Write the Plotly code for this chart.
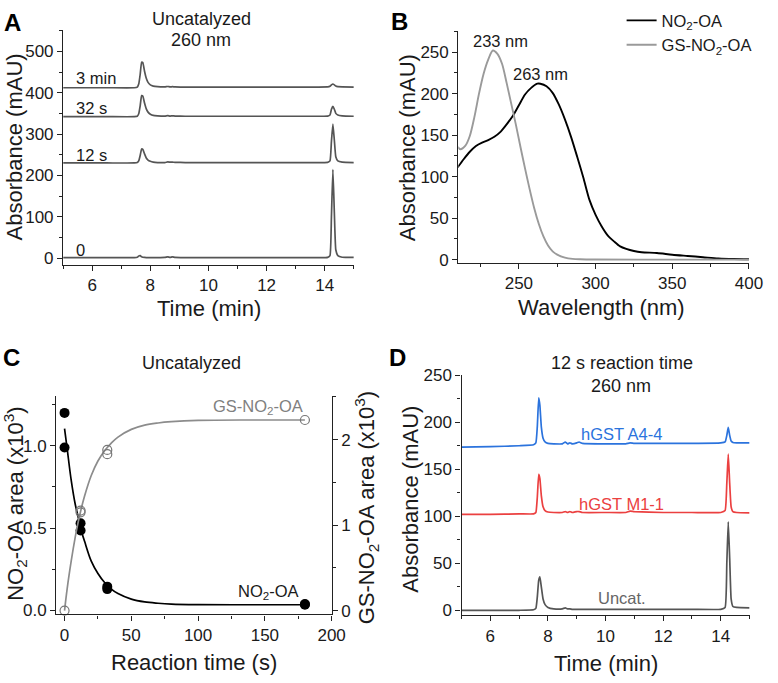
import plotly.graph_objects as go

W, H = 778, 683
FONT = "Arial, Liberation Sans, sans-serif"
TXT = "#1a1a1a"

# ---------------- Panel A data (chromatograms, uncatalyzed) ----------------
tA = [5.0, 6.5, 7.45, 7.55, 7.6, 7.65, 7.7, 7.74, 7.8, 7.86, 7.92, 8.0, 8.1, 8.25, 8.5, 8.6,
      8.68, 8.76, 8.85, 9.2, 10.5, 12.0, 13.5, 14.1, 14.18, 14.23, 14.28, 14.33, 14.38, 14.45, 14.6, 15.0]
a_0 = [1, 1, 1, 2, 5, 6, 3, 2, 1.5, 1.2, 1, 1, 1, 1, 1.5, 3,
       1.5, 3, 1.5, 1, 1, 1, 1, 1.5, 6, 100, 214, 110, 20, 6, 2, 1.5]
a_12s = [230, 230, 230, 231, 235, 248, 264, 263, 252, 242, 237, 234, 232, 231, 231, 232.5,
         232, 232, 231.5, 231, 231, 231, 231, 231.5, 235, 282, 324, 285, 245, 235, 232, 231]
a_32s = [342, 342, 342, 343, 349, 368, 393, 392, 375, 361, 353, 348, 345, 344, 343.5, 344.5,
         343.5, 344, 343.5, 343, 343, 343, 343, 343.5, 346, 360, 367, 360, 350, 346, 344, 343]
a_3min = [412, 412, 412, 413.5, 421, 444, 474, 473, 452, 435, 425, 419, 416, 414.5, 414, 415,
          414, 414.5, 414, 413.5, 413.5, 413.5, 413.5, 414, 415.5, 419, 421, 419, 416, 414.5, 414, 413.5]
labelsA = ["3 min", "32 s", "12 s", "0"]

# ---------------- Panel B data (UV spectra) ----------------
wl_no2 = [210, 214, 218, 222, 226, 230, 234, 238, 242, 246, 250, 254, 258, 262, 264, 268, 272, 276,
          280, 284, 288, 292, 296, 300, 304, 308, 312, 316, 320, 325, 330, 340, 350, 360, 370, 380, 390, 400]
ab_no2 = [111, 121, 130, 137, 141, 144, 148, 154, 163, 173, 186, 199, 207, 212, 212, 209, 201, 187,
          169, 148, 124, 99, 72, 54, 40, 29, 22, 16, 13, 10.5, 9, 8, 6, 4.5, 3, 1.5, 0.8, 0.5]
wl_gs = [210, 212, 215, 218, 221, 224, 227, 230, 233, 236, 239, 242, 245, 248, 251, 254, 257, 260,
         263, 266, 269, 272, 275, 280, 285, 290, 300, 350, 400]
ab_gs = [136, 133, 137, 149, 172, 200, 224, 241, 252, 248, 236, 213, 188, 163, 136, 110, 85, 62,
         43, 28, 17, 10, 6, 2.5, 1, 0.5, 0.2, 0, 0]

# ---------------- Panel C data (kinetics) ----------------
t_no2_pts = [0, 0, 12, 12, 32, 32, 180, 180]
area_no2_pts = [1.20, 0.99, 0.53, 0.486, 0.145, 0.13, 0.04, 0.035]
t_gs_pts = [0, 12, 12, 32, 32, 180]
area_gs_pts = [0.0, 1.17, 1.15, 1.88, 1.83, 2.23]
t_fit = [0, 2, 5, 8, 10, 12, 15, 20, 25, 30, 35, 40, 50, 60, 70, 80, 100, 140, 180]
fit_no2 = [1.105, 0.98, 0.79, 0.645, 0.575, 0.50, 0.42, 0.30, 0.225, 0.17, 0.13, 0.103, 0.069,
           0.052, 0.044, 0.039, 0.036, 0.035, 0.035]
fit_gs = [0.0, 0.26, 0.58, 0.86, 1.02, 1.16, 1.34, 1.58, 1.75, 1.87, 1.96, 2.03, 2.12, 2.17,
          2.195, 2.21, 2.225, 2.23, 2.23]

# ---------------- Panel D data (12 s chromatograms) ----------------
tD = [5.0, 6.0, 7.0, 7.5, 7.58, 7.63, 7.68, 7.72, 7.77, 7.83, 7.9, 8.0, 8.2, 8.5, 8.6, 8.68, 8.76,
      8.85, 9.0, 9.08, 9.2, 10.0, 10.7, 10.85, 11.0, 12.0, 13.0, 14.0, 14.15, 14.21, 14.26, 14.31,
      14.36, 14.42, 14.55, 15.0]
d_a44 = [173.5, 174, 175, 176, 178, 195, 226, 218, 195, 183, 179, 177.5, 177, 177, 179, 177, 178,
         177, 178, 179, 177.5, 177, 177, 178, 177.5, 177.5, 177.5, 178, 179, 186, 194.5, 186,
         180, 178.5, 178, 178]
d_m11 = [102, 102, 102.5, 102.5, 104, 120, 144.5, 140, 122, 110, 106, 104.5, 104, 104, 105, 104, 105,
         104, 105, 105, 104, 104, 104, 105.5, 105, 104, 104, 104, 106, 135, 166, 135,
         110, 105, 104, 103.5]
d_unc = [0, 0, 0, 0.5, 2, 14, 32, 35.5, 25, 12, 6, 3, 1.5, 1.5, 2.5, 1.5, 1.5,
         1, 1, 1, 1, 1, 1, 1, 1, 1, 1, 1, 3, 50, 94, 55,
         12, 4, 3, 2.5]
labelsD = ["hGST A4-4", "hGST M1-1", "Uncat."]


def px(x):
    return x / W


def py(y):
    return 1 - y / H


fig = go.Figure()

GRAY_A = "#555555"
for yv in [a_0, a_12s, a_32s, a_3min]:
    fig.add_trace(go.Scatter(x=tA, y=yv, mode="lines", xaxis="x", yaxis="y",
                             line=dict(color=GRAY_A, width=1.7, shape="spline", smoothing=0.4),
                             showlegend=False, hoverinfo="skip"))

fig.add_trace(go.Scatter(x=wl_no2, y=ab_no2, mode="lines", xaxis="x2", yaxis="y2",
                         line=dict(color="#000000", width=1.9, shape="spline", smoothing=0.8),
                         name="NO<sub>2</sub>-OA"))
fig.add_trace(go.Scatter(x=wl_gs, y=ab_gs, mode="lines", xaxis="x2", yaxis="y2",
                         line=dict(color="#9a9a9a", width=1.9, shape="spline", smoothing=0.8),
                         name="GS-NO<sub>2</sub>-OA"))

fig.add_trace(go.Scatter(x=t_fit, y=fit_no2, mode="lines", xaxis="x3", yaxis="y3",
                         line=dict(color="#000000", width=1.7, shape="spline"), showlegend=False))
fig.add_trace(go.Scatter(x=t_fit, y=fit_gs, mode="lines", xaxis="x3", yaxis="y4",
                         line=dict(color="#8c8c8c", width=1.7, shape="spline"), showlegend=False))
fig.add_trace(go.Scatter(x=t_no2_pts, y=area_no2_pts, mode="markers", xaxis="x3", yaxis="y3",
                         marker=dict(color="#000000", size=10), showlegend=False, cliponaxis=False))
fig.add_trace(go.Scatter(x=t_gs_pts, y=area_gs_pts, mode="markers", xaxis="x3", yaxis="y4",
                         marker=dict(color="#777777", size=9, symbol="circle-open",
                                     line=dict(color="#777777", width=1.2)),
                         showlegend=False, cliponaxis=False))

COLD = ["#2b73dd", "#eb4040", "#555555"]
for yv, c in zip([d_a44, d_m11, d_unc], COLD):
    fig.add_trace(go.Scatter(x=tD, y=yv, mode="lines", xaxis="x4", yaxis="y5",
                             line=dict(color=c, width=1.7, shape="spline", smoothing=0.4),
                             showlegend=False, hoverinfo="skip"))

tickfont = dict(family=FONT, size=17, color=TXT)
common = dict(showline=True, linecolor="#222222", linewidth=1.3, ticks="outside", ticklen=5,
              tickwidth=1.3, tickcolor="#222222", showgrid=False, zeroline=False,
              tickfont=tickfont)


def minor(d):
    return dict(dtick=d, ticks="outside", ticklen=3, tickwidth=1.2, tickcolor="#222222", showgrid=False)


fig.update_layout(
    width=W, height=H, autosize=False,
    margin=dict(l=0, r=0, t=0, b=0),
    paper_bgcolor="white", plot_bgcolor="rgba(0,0,0,0)",
    font=dict(family=FONT, color=TXT),
    xaxis=dict(domain=[px(64.3), px(360.3)], range=[5, 15], anchor="y", tick0=6, dtick=2,
               minor=minor(1), **common),
    yaxis=dict(domain=[py(262), py(22)], range=[-16.5, 550.5], anchor="x", tick0=0, dtick=100,
               minor=minor(50), **common),
    xaxis2=dict(domain=[px(466.7), px(762.7)], range=[210.5, 400], anchor="y2", tick0=250, dtick=50,
                minor=minor(25), **common),
    yaxis2=dict(domain=[py(260), py(22.7)], range=[-3.9, 275.3], anchor="x2", tick0=0, dtick=50,
                minor=minor(25), **common),
    xaxis3=dict(domain=[px(57.3), px(337.7)], range=[-6.2, 200], anchor="y3", tick0=0, dtick=50,
                minor=minor(25), **common),
    yaxis3=dict(domain=[py(620), py(396.7)], range=[-0.024, 1.30], anchor="x3", tick0=0, dtick=0.5,
                tickformat=".1f", minor=minor(0.25), **common),
    yaxis4=dict(range=[-0.046, 2.506], anchor="x3", overlaying="y3", side="right", tick0=0, dtick=1,
                minor=minor(0.5), **common),
    xaxis4=dict(domain=[px(470), px(763.3)], range=[5, 15], anchor="y5", tick0=6, dtick=2,
                minor=minor(1), **common),
    yaxis5=dict(domain=[py(620.7), py(375)], range=[-5.2, 250], anchor="x4", tick0=0, dtick=50,
                minor=minor(25), **common),
    legend=dict(x=px(633), y=py(-6), xanchor="left", yanchor="top", bgcolor="rgba(0,0,0,0)",
                font=dict(family=FONT, size=16.5, color=TXT), tracegroupgap=0, itemwidth=30),
)

ann = []


def A(x, y, text, size=16, color=TXT, bold=False, angle=0, xanchor="center"):
    ann.append(dict(x=px(x), y=py(y), xref="paper", yref="paper", text=("<b>%s</b>" % text) if bold else text,
                    showarrow=False, textangle=angle, xanchor=xanchor, yanchor="middle",
                    font=dict(family=FONT, size=size, color=color)))


# panel letters
A(13, 14, "A", 24, "#000", True)
A(407, 13, "B", 24, "#000", True)
A(12, 357, "C", 24, "#000", True)
A(405, 357, "D", 24, "#000", True)
# titles
A(205, 10, "Uncatalyzed", 18)
A(205, 32, "260 nm", 18)
A(195, 363, "Uncatalyzed", 18)
A(633, 363, "12 s reaction time", 18)
A(632, 386, "260 nm", 18)
# axis titles
A(15, 141, "Absorbance (mAU)", 22, angle=-90)
A(213, 307, "Time (min)", 22)
A(415, 142, "Absorbance (mAU)", 22, angle=-90)
A(613, 306, "Wavelength (nm)", 22)
A(15, 507, "NO<sub>2</sub>-OA area (x10<sup>3</sup>)", 22, angle=-90)
A(373, 510, "GS-NO<sub>2</sub>-OA area (x10<sup>3</sup>)", 22, angle=-90)
A(198, 669, "Reaction time (s)", 22)
A(418, 502, "Absorbance (mAU)", 22, angle=-90)
A(617, 670, "Time (min)", 22)
# trace labels panel A
A(75, 71, labelsA[0], 16.5, xanchor="left")
A(75, 101, labelsA[1], 16.5, xanchor="left")
A(75, 149, labelsA[2], 16.5, xanchor="left")
A(75, 247, labelsA[3], 16.5, xanchor="left")
# panel B peak labels
A(510, 33, "233 nm", 16.5)
A(550, 67, "263 nm", 16.5)
# panel C labels
A(263, 408, "GS-NO<sub>2</sub>-OA", 16.5, "#808080")
A(273, 597, "NO<sub>2</sub>-OA", 16.5)
# panel D labels
A(633, 435, labelsD[0], 16.5, COLD[0])
A(633, 507, labelsD[1], 16.5, COLD[1])
A(633, 603, labelsD[2], 16.5, "#666666")

fig.update_layout(annotations=ann)
fig.write_html("out.html")
